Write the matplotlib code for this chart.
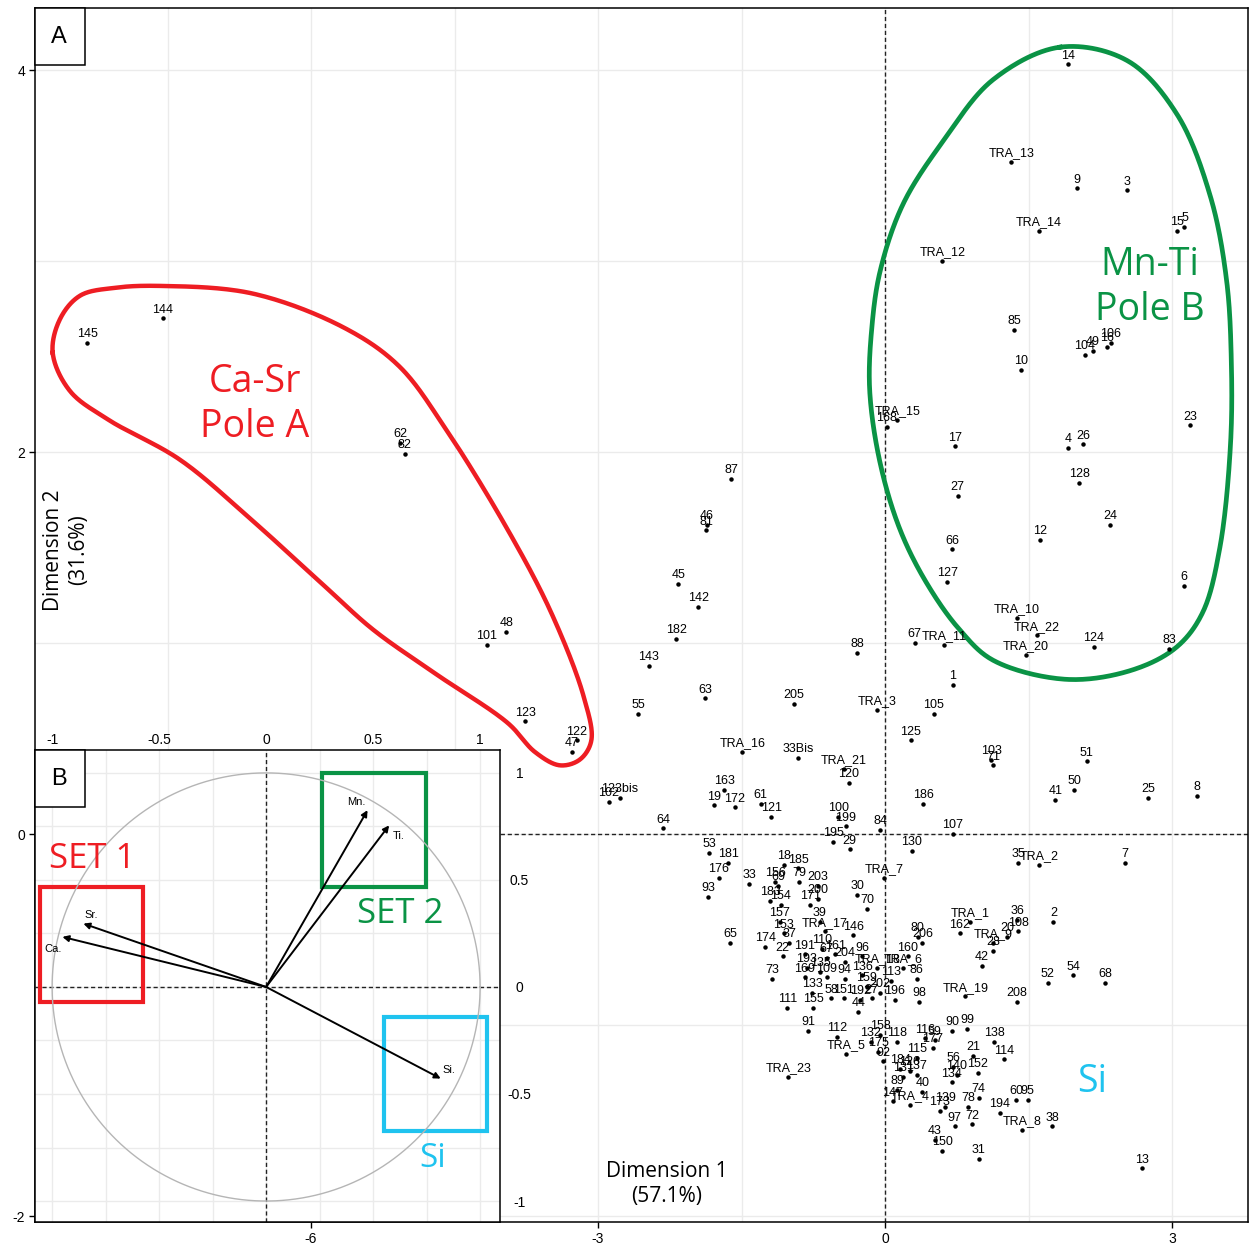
import matplotlib
matplotlib.use("Agg")
import matplotlib.pyplot as plt
import numpy as np
from matplotlib.patches import Rectangle

plt.rcParams["axes.unicode_minus"] = False
plt.rcParams["font.family"] = ["Liberation Sans", "DejaVu Sans"]

# --- individual scores on the first two dimensions ---
sample_ids = [
    # Mn-Ti pole
    "14", "TRA_13", "9", "3", "TRA_14", "15", "5", "TRA_12", "85", "10",
    "104", "49", "16", "106", "TRA_15", "168", "17", "4", "26", "23",
    "128", "27", "24", "12", "66", "127", "6", "TRA_10", "TRA_22", "TRA_20",
    "124", "83", "67", "TRA_11", "1",
    # Ca-Sr pole
    "145", "144", "62", "82", "101", "48", "123", "122", "47",
    # centre
    "87", "46", "81", "45", "142", "182", "143", "88", "63", "205",
    "55", "TRA_3", "105", "125", "103", "71", "51", "186", "41", "50",
    "25", "8", "107", "84", "130", "35", "TRA_2", "7", "TRA_7", "TRA_16",
    "33Bis", "TRA_21", "120", "123bis", "102", "163", "19", "172", "61", "121",
    "100", "199", "64", "195", "29", "53", "181", "176", "18", "185",
    "156", "69", "79", "203", "33", "93", "183", "154", "171", "200",
    "30", "70", "157", "39", "TRA_17", "146", "153", "37", "65", "174",
    "22", "191", "110", "67", "161", "204", "96", "193", "135", "169",
    "109", "94", "136", "159", "TRA_18", "TRA_6", "113", "160", "80", "206",
    "86", "73", "133", "58", "151", "192", "27", "202", "196", "98",
    "44", "111", "155",
    # Si side
    "91", "112", "TRA_5", "158", "132", "175", "118", "92", "TRA_23", "116",
    "59", "177", "115", "90", "99", "138", "21", "152", "56", "140",
    "134", "184", "126", "137", "131", "89", "40", "147", "TRA_4", "173",
    "139", "78", "74", "97", "72", "43", "150", "31", "208", "114",
    "194", "60", "95", "TRA_8", "38", "13", "TRA_1", "162", "TRA_9", "20",
    "28", "36", "108", "2", "42", "52", "54", "68", "TRA_19",
]
dim1 = [
    1.91, 1.32, 2.01, 2.53, 1.61, 3.05, 3.13, 0.60, 1.35, 1.42,
    2.09, 2.17, 2.32, 2.36, 0.13, 0.02, 0.73, 1.91, 2.07, 3.19,
    2.03, 0.76, 2.35, 1.62, 0.70, 0.65, 3.12, 1.38, 1.59, 1.47,
    2.18, 2.97, 0.31, 0.62, 0.71,
    -8.34, -7.55, -5.07, -5.02, -4.16, -3.96, -3.76, -3.22, -3.27,
    -1.61, -1.86, -1.87, -2.16, -1.95, -2.18, -2.47, -0.29, -1.88, -0.95,
    -2.58, -0.08, 0.51, 0.27, 1.11, 1.13, 2.11, 0.40, 1.78, 1.98,
    2.75, 3.26, 0.71, -0.05, 0.28, 1.39, 1.61, 2.51, -0.01, -1.49,
    -0.91, -0.43, -0.38, -2.77, -2.89, -1.68, -1.79, -1.57, -1.30, -1.19,
    -0.49, -0.41, -2.32, -0.54, -0.37, -1.84, -1.64, -1.74, -1.06, -0.91,
    -1.15, -1.12, -0.90, -0.70, -1.42, -1.85, -1.20, -1.09, -0.78, -0.70,
    -0.29, -0.19, -1.10, -0.68, -0.63, -0.33, -1.06, -1.00, -1.62, -1.25,
    -1.07, -0.84, -0.66, -0.61, -0.52, -0.42, -0.24, -0.82, -0.68, -0.84,
    -0.61, -0.42, -0.24, -0.19, -0.08, 0.19, 0.06, 0.24, 0.34, 0.39,
    0.33, -1.18, -0.76, -0.56, -0.43, -0.26, -0.14, -0.05, 0.10, 0.36,
    -0.28, -1.02, -0.75,
    -0.80, -0.50, -0.41, -0.05, -0.15, -0.07, 0.13, -0.02, -1.01, 0.42,
    0.52, 0.50, 0.33, 0.70, 0.86, 1.14, 0.92, 0.97, 0.71, 0.75,
    0.70, 0.16, 0.26, 0.33, 0.19, 0.13, 0.39, 0.08, 0.26, 0.57,
    0.63, 0.87, 0.98, 0.73, 0.91, 0.52, 0.60, 0.98, 1.38, 1.24,
    1.20, 1.37, 1.49, 1.43, 1.75, 2.69, 0.89, 0.78, 1.13, 1.28,
    1.13, 1.38, 1.39, 1.76, 1.01, 1.70, 1.97, 2.30, 0.84,
]
dim2 = [
    4.03, 3.52, 3.38, 3.37, 3.16, 3.16, 3.18, 3.00, 2.64, 2.43,
    2.51, 2.53, 2.55, 2.57, 2.17, 2.13, 2.03, 2.02, 2.04, 2.14,
    1.84, 1.77, 1.62, 1.54, 1.49, 1.32, 1.30, 1.13, 1.04, 0.94,
    0.98, 0.97, 1.00, 0.99, 0.78,
    2.57, 2.70, 2.05, 1.99, 0.99, 1.06, 0.59, 0.49, 0.43,
    1.86, 1.62, 1.59, 1.31, 1.19, 1.02, 0.88, 0.95, 0.71, 0.68,
    0.63, 0.65, 0.63, 0.49, 0.39, 0.36, 0.38, 0.16, 0.18, 0.23,
    0.19, 0.20, 0.00, 0.02, -0.09, -0.15, -0.16, -0.15, -0.23, 0.43,
    0.40, 0.34, 0.27, 0.19, 0.17, 0.23, 0.15, 0.14, 0.16, 0.09,
    0.09, 0.04, 0.03, -0.04, -0.08, -0.10, -0.15, -0.23, -0.16, -0.18,
    -0.25, -0.27, -0.25, -0.27, -0.26, -0.33, -0.35, -0.37, -0.37, -0.34,
    -0.32, -0.39, -0.46, -0.46, -0.51, -0.53, -0.52, -0.57, -0.57, -0.59,
    -0.64, -0.63, -0.60, -0.65, -0.63, -0.67, -0.64, -0.70, -0.72, -0.75,
    -0.75, -0.76, -0.74, -0.80, -0.70, -0.70, -0.77, -0.64, -0.54, -0.57,
    -0.76, -0.76, -0.83, -0.86, -0.86, -0.87, -0.86, -0.83, -0.87, -0.88,
    -0.93, -0.91, -0.91,
    -1.03, -1.06, -1.15, -1.05, -1.09, -1.14, -1.09, -1.19, -1.27, -1.07,
    -1.08, -1.12, -1.17, -1.03, -1.02, -1.09, -1.16, -1.25, -1.22, -1.26,
    -1.30, -1.23, -1.24, -1.26, -1.27, -1.34, -1.35, -1.40, -1.42, -1.45,
    -1.43, -1.43, -1.38, -1.53, -1.52, -1.60, -1.66, -1.70, -0.88, -1.18,
    -1.46, -1.39, -1.39, -1.55, -1.53, -1.75, -0.46, -0.52, -0.57, -0.54,
    -0.61, -0.45, -0.51, -0.46, -0.69, -0.78, -0.74, -0.78, -0.85,
]

# --- variable loadings (correlation circle) ---
variables = ["Ca.", "Sr.", "Mn.", "Ti.", "Si."]
load1 = [-0.952, -0.854, 0.474, 0.575, 0.816]
load2 = [0.234, 0.296, 0.826, 0.755, -0.428]

# hand-drawn group outlines (dimension 1, dimension 2)
pole_a_x = [-8.70, -8.62, -8.41, -8.05, -7.58, -6.61, -5.65, -5.08, -4.59, -3.94, -3.49,
            -3.15, -3.07, -3.19, -3.40, -3.66, -3.94, -4.70, -5.35, -5.84, -6.61, -7.37,
            -8.12, -8.52]
pole_a_y = [2.52, 2.70, 2.82, 2.86, 2.87, 2.83, 2.65, 2.45, 2.12, 1.59, 1.16,
            0.72, 0.49, 0.39, 0.36, 0.43, 0.58, 0.84, 1.07, 1.29, 1.64, 1.96,
            2.17, 2.32]
pole_b_x = [1.83, 2.53, 3.05, 3.40, 3.57, 3.62, 3.61, 3.50, 3.32, 3.05, 2.59, 1.90,
            1.13, 0.78, 0.44, 0.16, -0.05, -0.16, -0.14, -0.05, 0.19, 0.61, 1.13]
pole_b_y = [4.12, 4.05, 3.77, 3.34, 2.90, 2.47, 2.03, 1.50, 1.16, 0.98, 0.86, 0.81,
            0.91, 1.07, 1.31, 1.59, 1.94, 2.32, 2.64, 2.95, 3.30, 3.63, 3.95]

RED = "#ee1d23"
GREEN = "#0a9345"
CYAN = "#1fc3ef"
TITLE_FONT = ["Open Sans", "DejaVu Sans"]


def closed_spline(xs, ys, n=30, yscale=2.0):
    # centripetal Catmull-Rom through the control points, wrapped round;
    # y is stretched so the curve is smooth in screen space
    pts = np.column_stack([xs, np.asarray(ys) * yscale])
    m = len(pts)
    segs = []
    for i in range(m):
        p0, p1, p2, p3 = pts[(i - 1) % m], pts[i], pts[(i + 1) % m], pts[(i + 2) % m]
        t0 = 0.0
        t1 = t0 + np.linalg.norm(p1 - p0) ** 0.5
        t2 = t1 + np.linalg.norm(p2 - p1) ** 0.5
        t3 = t2 + np.linalg.norm(p3 - p2) ** 0.5
        t = np.linspace(t1, t2, n, endpoint=False)[:, None]
        a1 = (t1 - t) / (t1 - t0) * p0 + (t - t0) / (t1 - t0) * p1
        a2 = (t2 - t) / (t2 - t1) * p1 + (t - t1) / (t2 - t1) * p2
        a3 = (t3 - t) / (t3 - t2) * p2 + (t - t2) / (t3 - t2) * p3
        b1 = (t2 - t) / (t2 - t0) * a1 + (t - t0) / (t2 - t0) * a2
        b2 = (t3 - t) / (t3 - t1) * a2 + (t - t1) / (t3 - t1) * a3
        segs.append((t2 - t) / (t2 - t1) * b1 + (t - t1) / (t2 - t1) * b2)
    out = np.vstack(segs)
    out = np.vstack([out, out[:1]])
    out[:, 1] /= yscale
    return out


fig = plt.figure(figsize=(12.52, 12.45), dpi=100)

# ---------------- panel A: individuals ----------------
ax = fig.add_axes([35 / 1252, 23 / 1245, 1213 / 1252, 1214 / 1245])
ax.set_xlim(-8.885, 3.794)
ax.set_ylim(-2.031, 4.325)
ax.set_xticks([-6, -3, 0, 3])
ax.set_xticks([-7.5, -4.5, -1.5, 1.5], minor=True)
ax.set_yticks([-2, 0, 2, 4])
ax.set_yticks([-1, 1, 3], minor=True)
ax.grid(True, which="both", color="#ebebeb", lw=1)
ax.set_axisbelow(True)
ax.tick_params(which="major", length=4, width=1, labelsize=10, pad=3)
ax.tick_params(which="minor", length=0)
for s in ax.spines.values():
    s.set_linewidth(1.1)
ax.axhline(0, color="#222222", lw=1, ls=(0, (3, 2)), zorder=1)
ax.axvline(0, color="#222222", lw=1, ls=(0, (3, 2)), zorder=1)

ax.plot(dim1, dim2, "o", color="black", ms=2.2, zorder=3)
for lab, x, y in zip(sample_ids, dim1, dim2):
    ax.annotate(lab, (x, y), xytext=(0, 2), textcoords="offset points",
                ha="center", va="bottom", fontsize=9, zorder=4)

ca = closed_spline(pole_a_x, pole_a_y)
ax.plot(ca[:, 0], ca[:, 1], color=RED, lw=3.2, zorder=2, clip_on=False)
mn = closed_spline(pole_b_x, pole_b_y)
ax.plot(mn[:, 0], mn[:, 1], color=GREEN, lw=3.4, zorder=2)

ax.text(-6.59, 2.25, "Ca-Sr\nPole A", color=RED, fontsize=27, family=TITLE_FONT,
        ha="center", va="center", linespacing=1.25)
ax.text(2.77, 2.86, "Mn-Ti\nPole B", color=GREEN, fontsize=27, family=TITLE_FONT,
        ha="center", va="center", linespacing=1.25)
ax.text(2.16, -1.30, "Si", color=CYAN, fontsize=27, family=TITLE_FONT,
        ha="center", va="center")

fig.text(667 / 1252, 1 - 1184 / 1245, "Dimension 1\n(57.1%)", fontsize=15,
         family=TITLE_FONT, ha="center", va="center", linespacing=1.3)
fig.text(66 / 1252, 1 - 550 / 1245, "Dimension 2\n(31.6%)", fontsize=15,
         family=TITLE_FONT, ha="center", va="center", rotation=90,
         linespacing=1.3, multialignment="center")

# ---------------- panel B: variables ----------------
axb = fig.add_axes([35 / 1252, 23 / 1245, 465 / 1252, 472 / 1245])
axb.set_xlim(-1.08, 1.093)
axb.set_ylim(-1.098, 1.107)
grid = np.arange(-1, 1.01, 0.25)
axb.set_xticks(grid, minor=True)
axb.set_yticks(grid, minor=True)
axb.set_xticks([-1, -0.5, 0, 0.5, 1])
axb.set_xticklabels(["-1", "-0.5", "0", "0.5", "1"])
axb.set_yticks([-1, -0.5, 0, 0.5, 1])
axb.set_yticklabels(["-1", "-0.5", "0", "0.5", "1"])
axb.grid(True, which="both", color="#ebebeb", lw=1)
axb.set_axisbelow(True)
axb.xaxis.tick_top()
axb.yaxis.tick_right()
axb.tick_params(which="both", length=0, labelsize=10)
axb.tick_params(axis="x", pad=2)
axb.tick_params(axis="y", pad=14)
for t in axb.get_yticklabels():
    t.set_ha("center")
for s in axb.spines.values():
    s.set_linewidth(1.1)
axb.axhline(0, color="#222222", lw=1, ls=(0, (3, 2)), zorder=1)
axb.axvline(0, color="#222222", lw=1, ls=(0, (3, 2)), zorder=1)

th = np.linspace(0, 2 * np.pi, 400)
axb.plot(np.cos(th), np.sin(th), color="#b5b5b5", lw=1)

var_offsets = [(-7, -9), (6, 6), (-8, 6), (7, -8), (6, 6)]
for name, lx, ly, off in zip(variables, load1, load2, var_offsets):
    axb.annotate("", xy=(lx, ly), xytext=(0, 0),
                 arrowprops=dict(arrowstyle="-|>", color="black", lw=1.4,
                                 mutation_scale=9, shrinkA=0, shrinkB=0))
    axb.annotate(name, (lx, ly), xytext=off, textcoords="offset points",
                 ha="center", va="center", fontsize=8)

boxes = [(-1.056, -0.070, 0.483, 0.537, RED),
         (0.263, 0.467, 0.483, 0.533, GREEN),
         (0.551, -0.674, 0.483, 0.534, CYAN)]
for x0, y0, w, h, c in boxes:
    axb.add_patch(Rectangle((x0, y0), w, h, fill=False, ec=c, lw=3))
axb.text(-0.815, 0.60, "SET 1", color=RED, fontsize=25, family=TITLE_FONT,
         ha="center", va="center")
axb.text(0.626, 0.343, "SET 2", color=GREEN, fontsize=25, family=TITLE_FONT,
         ha="center", va="center")
axb.text(0.777, -0.80, "Si", color=CYAN, fontsize=24, family=TITLE_FONT,
         ha="center", va="center")

# panel letters
for y0, letter in [(8, "A"), (750, "B")]:
    fig.patches.append(Rectangle((35 / 1252, 1 - (y0 + 57) / 1245), 50 / 1252, 57 / 1245,
                                 transform=fig.transFigure, fc="white", ec="black",
                                 lw=1.1, zorder=5))
    fig.text(59 / 1252, 1 - (y0 + 29) / 1245, letter, fontsize=17,
             ha="center", va="center", zorder=6)

fig.savefig("out.png", dpi=100)
